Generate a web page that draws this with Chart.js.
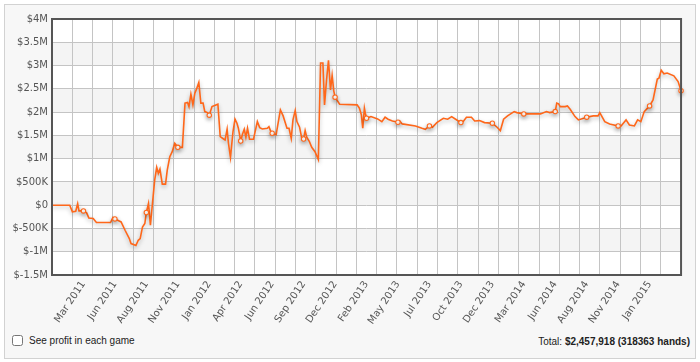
<!DOCTYPE html>
<html>
<head>
<meta charset="utf-8">
<script src="https://cdn.jsdelivr.net/npm/chart.js@4.4.1/dist/chart.umd.min.js"></script>
<style>
  body { margin: 0; background: #fff; font-family: "Liberation Sans", Arial, sans-serif; }
  #box { position: absolute; left: 4px; top: 4px; width: 690px; height: 353px; border: 1px solid #d2d2d2; background: #f7f7f7; }
  #wrap { position: absolute; left: 0; top: 0; width: 690px; height: 320px; }
  #foot { position: absolute; left: 0; top: 330px; width: 690px; height: 14px; font-size: 10px; color: #222; }
  #foot label { position: absolute; left: 7px; top: 0; }
  #foot input { width: 11px; height: 11px; margin: 0 6px 0 0; vertical-align: -2px; }
  #total { position: absolute; right: 5px; top: 1px; }
</style>
</head>
<body>
<div id="box">
  <div id="wrap"><canvas id="myChart"></canvas></div>
  <div id="foot">
    <label><input type="checkbox">See profit in each game</label>
    <span id="total">Total: <b>$2,457,918 (318363 hands)</b></span>
  </div>
</div>
<script>
// game index (x) and cumulative profit in $K (y)
const gameIdx = [0,17.5,20.1,23.4,25.3,26.6,31,34.1,36.3,40.6,
  43.8,57.7,60.1,62,68.1,72,76.2,77.9,82.7,85,
  86.9,89.2,91.5,93,95.1,97,99,101.2,103.2,104.8,
  106.4,108.7,111.9,113.6,116.1,118.5,121,124,128.5,131.1,
  133.6,135,136.9,138.9,140.8,142.4,144.7,146.7,148.9,150.6,
  153.1,155,157.7,163.5,165.8,169.1,170.6,172.6,173.9,175.9,
  178.4,180.4,182.3,183.7,186,187.8,189.5,191.1,192.7,194.7,
  198.6,202.4,204.7,207.3,212.2,213.8,216.1,217,220.9,225.1,
  227.8,231.6,233.6,235.8,237.5,239.7,241.4,244,246.2,248,
  249.5,251.1,253.7,256,259.2,262.5,264.7,267,268.6,270.6,
  272.5,274.5,276.1,277.7,279,283.5,300.7,303,304.9,306.3,
  307.9,308.8,310,314.4,320.9,325.1,328.3,331.2,335.5,341,
  342.6,345.2,358.2,364.7,367.9,372,375,379.3,385.7,390,
  393.9,397.8,403,405.2,408.5,413.4,416.6,421.4,426.3,434,
  438.7,441.9,445.1,449,455.5,458.1,465,481.5,487.3,490.5,
  496,497.5,499.3,500.9,505.8,508,510.7,515.5,518.8,527,
  533.4,538.2,539.9,544.8,549.6,558,560.9,565.8,569.1,574,
  577.2,580.4,583.7,589,592.4,596.6,598.2,600.5,603.1,606.3,
  612.9,617.1,620];

const profitK = [0,0,-144,-130,30,-123,-123,-166,-274,-287,
  -373,-373,-265,-295,-360,-539,-718,-825,-868,-754,
  -718,-468,-394,-157,37,-431,37,539,812,683,
  776,453,453,754,1041,1149,1330,1243,1243,2192,
  2205,2118,2386,2155,2407,2493,2636,2192,2192,2011,
  1989,1933,2118,2170,1472,1422,1401,1631,1330,1028,
  1580,1847,1761,1653,1379,1530,1631,1459,1653,1416,
  1416,1795,1666,1638,1653,1687,1558,1545,1515,2047,
  1918,1653,1653,1437,1832,2032,1795,1674,1437,1422,
  1601,1459,1364,1243,1149,981,3054,3054,2155,2694,
  3110,2478,2786,2457,2321,2170,2155,2084,1940,1653,
  2084,1976,1868,1903,1853,1795,1890,1847,1810,1782,
  1810,1746,1702,1653,1631,1702,1674,1774,1868,1847,
  1903,1847,1774,1795,1890,1890,1810,1817,1774,1761,
  1674,1601,1847,1918,2011,1989,1961,1961,2011,1989,
  2011,2192,2177,2118,2118,2133,2062,1903,1832,1890,
  1918,1918,1989,1795,1746,1702,1702,1832,1724,1702,
  1832,1795,2011,2133,2263,2709,2730,2899,2823,2838,
  2780,2657,2458];

// date labels and where they sit on the game axis (markers sit there too)
const dateLabels = ['Mar 2011','Jun 2011','Aug 2011','Nov 2011','Jan 2012','Apr 2012','Jun 2012',
  'Sep 2012','Dec 2012','Feb 2013','May 2013','Jul 2013','Oct 2013','Dec 2013','Mar 2014',
  'Jun 2014','Aug 2014','Nov 2014','Jan 2015'];
const labelAt = [31,62,93,124,155,186,217,248,279,310,341,372,403,434,465,496,527,558,589];
const markerAt = [31,62,93,124,155,186,217,248,279,310,341,372,403,434,465,496,527,558,589,620];
const gridAt = [0,20,40,60,80,100,120,140,160,180,200,220,240,260,280,300,320,340,360,380,400,
  420,440,460,480,500,520,540,560,580,600,620];

const points = gameIdx.map((x, i) => ({ x: x, y: profitK[i] }));
const orange = '#ff671a';

function money(v) {
  if (v === 0) return '$0';
  if (Math.abs(v) >= 1000) return '$' + (v / 1000) + 'M';
  return '$' + v + 'K';
}

// white plot with alternating grey bands, dark frame, soft line shadow
const plotDeco = {
  id: 'plotDeco',
  beforeDraw(chart) {
    const { ctx, chartArea: a, scales: { y } } = chart;
    ctx.save();
    ctx.fillStyle = '#fff';
    ctx.fillRect(a.left, a.top, a.width, a.height);
    ctx.fillStyle = '#f4f4f4';
    for (let v = 3500; v > -1500; v -= 1000) {
      const t = y.getPixelForValue(v), b = y.getPixelForValue(v - 500);
      ctx.fillRect(a.left, t, a.width, b - t);
    }
    ctx.restore();
  },
  beforeDatasetDraw(chart) {
    const ctx = chart.ctx;
    ctx.save();
    ctx.shadowColor = 'rgba(0,0,0,0.28)';
    ctx.shadowBlur = 4;
    ctx.shadowOffsetY = 2;
  },
  afterDatasetDraw(chart) {
    chart.ctx.restore();
  },
  afterDraw(chart) {
    const { ctx, chartArea: a } = chart;
    ctx.save();
    ctx.strokeStyle = '#555';
    ctx.lineWidth = 2;
    ctx.strokeRect(a.left, a.top, a.width, a.height);
    ctx.restore();
  }
};

const ctx = document.getElementById('myChart').getContext('2d');
new Chart(ctx, {
  type: 'line',
  data: {
    datasets: [{
      data: points,
      borderColor: orange,
      borderWidth: 1.6,
      tension: 0,
      fill: false,
      clip: 6,
      pointRadius: c => (c.raw && markerAt.includes(c.raw.x)) ? 2.2 : 0,
      pointBackgroundColor: '#fff',
      pointBorderColor: orange,
      pointBorderWidth: 1.1
    }]
  },
  options: {
    responsive: true,
    maintainAspectRatio: false,
    animation: false,
    layout: { padding: { top: 14, right: 6, left: 0, bottom: 0 } },
    plugins: { legend: { display: false }, tooltip: { enabled: false } },
    scales: {
      x: {
        type: 'linear',
        min: 0,
        max: 620,
        border: { display: false },
        afterBuildTicks: scale => {
          const t = gridAt.map(v => ({ value: v, grid: true }));
          labelAt.forEach((v, i) => t.push({ value: v, text: dateLabels[i] }));
          t.sort((p, q) => p.value - q.value);
          scale.ticks = t;
        },
        afterFit: scale => { scale.height = 50; },
        grid: {
          drawTicks: false,
          color: c => (c.tick && c.tick.grid) ? '#c4c4c4' : 'rgba(0,0,0,0)',
          lineWidth: 1
        },
        ticks: {
          autoSkip: false,
          maxRotation: 56,
          minRotation: 56,
          padding: 4,
          color: '#555',
          font: { family: 'DejaVu Sans', size: 10 },
          callback: (v, i, ticks) => ticks[i].text || ''
        }
      },
      y: {
        min: -1500,
        max: 4000,
        border: { display: false },
        afterFit: scale => { scale.width = 47; },
        grid: { drawTicks: false, color: '#c4c4c4', lineWidth: 1 },
        ticks: {
          stepSize: 500,
          padding: 4,
          color: '#555',
          font: { family: 'DejaVu Sans', size: 10 },
          callback: v => money(v)
        }
      }
    }
  },
  plugins: [plotDeco]
});
</script>
</body>
</html>
